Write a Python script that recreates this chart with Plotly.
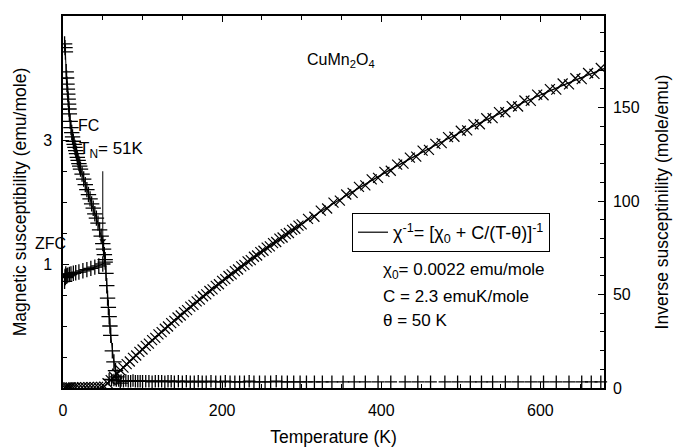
import plotly.graph_objects as go

# ---------------- data ----------------
FC_T = [2, 2.5, 3, 4, 4.5, 5, 5.5, 6, 6.5, 7, 7.5, 8, 9, 10, 11, 12, 13, 14, 15, 16,
        17, 18, 19, 20, 21, 22, 24, 26, 28, 30, 32, 34, 36, 38, 40, 42, 44, 46, 48, 50,
        51, 52, 53, 54, 55, 56, 57, 58, 59, 60, 62, 64, 66, 68, 72]
FC_CHI = [4.55, 4.49, 4.42, 4.10, 4.00, 3.90, 3.82, 3.74, 3.66, 3.58, 3.50, 3.42, 3.30, 3.20, 3.12, 3.05, 2.98, 2.93, 2.88, 2.83,
          2.78, 2.72, 2.67, 2.62, 2.58, 2.53, 2.45, 2.37, 2.28, 2.20, 2.12, 2.05, 1.97, 1.90, 1.81, 1.74, 1.66, 1.55, 1.45, 1.33,
          1.24, 1.15, 1.07, 0.85, 0.65, 0.45, 0.30, 0.15, 0.00, -0.15, -0.40, -0.58, -0.72, -0.82, -0.92]

ZFC_T = [2, 2.5, 3, 3.5, 4, 5, 6, 8, 10, 13, 16, 20, 25, 30, 35, 40, 45, 50, 53]
ZFC_CHI = [0.72, 0.80, 0.78, 0.84, 0.80, 0.81, 0.82, 0.83, 0.84, 0.85, 0.86, 0.87, 0.89, 0.91, 0.93, 0.95, 0.97, 1.00, 1.03]

BOT_T = [58, 61, 64, 67, 70, 73, 76, 79, 82, 85,
         88, 91, 94, 97, 100, 104, 108, 112, 116, 120,
         124, 128, 132, 136, 140, 145, 150, 155, 160, 165,
         170, 175, 180, 186, 192, 198, 204, 210, 216, 222,
         228, 234, 240, 247, 254, 261, 268, 275, 282, 290,
         298, 306, 316, 326, 338, 352, 366, 380, 396, 412,
         430, 446, 462, 480, 496, 512, 526, 540, 556, 572,
         588, 604, 620, 636, 652, 664, 676]
BOT_CHI = [-0.86, -0.87, -0.87, -0.88, -0.88, -0.88, -0.89, -0.88, -0.89, -0.89,
           -0.88, -0.89, -0.89, -0.89, -0.89, -0.89, -0.89, -0.90, -0.89, -0.89,
           -0.89, -0.90, -0.89, -0.89, -0.90, -0.89, -0.90, -0.89, -0.90, -0.90,
           -0.89, -0.90, -0.90, -0.89, -0.90, -0.90, -0.89, -0.90, -0.90, -0.90,
           -0.90, -0.89, -0.90, -0.90, -0.90, -0.90, -0.89, -0.90, -0.90, -0.90,
           -0.90, -0.90, -0.90, -0.90, -0.90, -0.90, -0.90, -0.90, -0.90, -0.90,
           -0.90, -0.90, -0.90, -0.90, -0.90, -0.90, -0.90, -0.90, -0.90, -0.90,
           -0.90, -0.90, -0.90, -0.90, -0.90, -0.90, -0.90]

INV_T = [2, 4, 6, 8, 10, 13, 16, 20, 24, 28, 32, 36, 40, 44, 48, 52,
         56, 60, 64, 68, 72, 76, 80, 84, 88, 92, 96, 100, 104, 108, 112, 116, 120, 124, 128, 132,
         136, 140, 144, 148, 152, 156, 160, 164, 168, 172, 176, 180, 184, 188, 192, 196, 200, 204,
         208, 212, 216, 220, 224, 228, 232, 236, 240, 244, 248, 252, 256, 260, 264, 268, 272, 276,
         280, 284, 288, 292, 296, 300,
         308, 316, 324, 332, 340, 348, 356, 364, 372, 380, 388, 396, 404, 412, 420, 428, 436, 444,
         452, 460, 468, 476, 484, 492, 500, 508, 516, 524, 532, 540, 548, 556, 564, 572, 580, 588,
         596, 604, 612, 620, 628, 636, 644, 652, 660, 668, 676]
INV_CHI = [0.22, 0.23, 0.25, 0.26, 0.28, 0.29, 0.32, 0.35, 0.38, 0.41, 0.44, 0.47, 0.51, 0.56, 0.64, 0.76,
           2.6, 4.2, 6.1, 7.6, 9.5, 10.9, 12.8, 14.2, 16.1, 17.4, 19.3, 20.6, 22.5, 23.7, 25.6, 26.8, 28.7, 29.9, 31.7, 32.9,
           34.7, 35.9, 37.7, 38.8, 40.6, 41.7, 43.5, 44.5, 46.3, 47.3, 49.1, 50.1, 51.9, 52.8, 54.6, 55.5, 57.3, 58.2,
           59.9, 60.8, 62.5, 63.4, 65.1, 65.9, 67.7, 68.4, 70.2, 70.9, 72.7, 73.4, 75.1, 75.8, 77.5, 78.1, 79.9, 80.5,
           82.3, 82.9, 84.6, 85.2, 86.9, 87.5,
           90.5, 91.6, 94.9, 96.0, 99.2, 100.2, 103.5, 104.4, 107.6, 108.4, 111.6, 112.4, 115.6, 116.2, 119.5, 120.0, 123.2, 123.8,
           127.0, 127.4, 130.6, 131.0, 134.2, 134.4, 137.6, 137.8, 141.0, 141.1, 144.3, 144.4, 147.6, 147.5, 150.8, 150.6, 153.8, 153.6,
           156.9, 156.6, 159.9, 159.6, 162.9, 162.4, 165.7, 165.2, 168.5, 168.0, 171.2]

FIT_T = [55, 57, 60, 65, 70, 80, 90, 100, 120, 140, 160, 180, 200, 250, 300, 350, 400, 450, 500, 550, 600, 650, 680]
FIT_INV = [2.16, 3.02, 4.31, 6.43, 8.53, 12.68, 16.75, 20.75, 28.52, 36.03, 43.27, 50.27, 57.03, 72.99, 87.72,
           101.35, 114.01, 125.79, 136.78, 147.06, 156.70, 165.75, 170.90]

X_TICKS = [0, 200, 400, 600]
Y1_TICKS = [1, 3]
Y2_TICKS = [0, 50, 100, 150]

# ---------------- layout geometry (pixels) ----------------
W, H = 679, 447
L, R, T, B = 63, 604, 16, 388
FONT = "Liberation Sans, Arial, sans-serif"


def px(x):
    return (x - L) / (R - L)


def py(y):
    return (B - y) / (B - T)


fig = go.Figure()

plus = dict(symbol="cross-thin-open", size=11, color="black", line=dict(width=1.3, color="black"))
cross = dict(symbol="x-thin-open", size=10, color="black", line=dict(width=1.2, color="black"))

fig.add_trace(go.Scatter(x=FC_T, y=FC_CHI, mode="lines+markers", marker=plus,
                         line=dict(color="black", width=1), showlegend=False, yaxis="y"))
fig.add_trace(go.Scatter(x=ZFC_T, y=ZFC_CHI, mode="lines+markers", marker=plus,
                         line=dict(color="black", width=1), showlegend=False, yaxis="y"))
fig.add_trace(go.Scatter(x=BOT_T, y=BOT_CHI, mode="markers", marker=dict(plus, size=9),
                         showlegend=False, yaxis="y", cliponaxis=False))
fig.add_trace(go.Scatter(x=INV_T, y=INV_CHI, mode="markers", marker=cross,
                         showlegend=False, yaxis="y2"))
fig.add_trace(go.Scatter(x=FIT_T, y=FIT_INV, mode="lines", line=dict(color="black", width=1.2, shape="spline"),
                         name="χ<sup>-1</sup>= [χ<sub>0</sub> + C/(T-θ)]<sup>-1</sup>", yaxis="y2"))

axis_common = dict(showline=True, linecolor="black", linewidth=1.5, ticks="inside",
                   tickcolor="black", tickwidth=1.2, showgrid=False, zeroline=False,
                   automargin=False,
                   tickfont=dict(family=FONT, size=16, color="black"))

fig.update_layout(
    width=W, height=H,
    margin=dict(l=L, r=W - R, t=T, b=H - B),
    paper_bgcolor="white", plot_bgcolor="white",
    font=dict(family=FONT, size=16, color="black"),
    xaxis=dict(axis_common, range=[0, 680], tickmode="array", tickvals=X_TICKS, ticklen=6,
               ticklabelstandoff=7, mirror="ticks",
               minor=dict(dtick=50, tick0=0, ticklen=4, ticks="inside", tickcolor="black"),
               title=dict(text="Temperature (K)", font=dict(size=17.5), standoff=14)),
    yaxis=dict(axis_common, range=[-1, 5], tickmode="array", tickvals=Y1_TICKS, ticklen=6,
               ticklabelstandoff=6,
               minor=dict(tickmode="linear", dtick=0.5, tick0=0, ticklen=4, ticks="inside", tickcolor="black"),
               title=dict(text="Magnetic susceptibility (emu/mole)", font=dict(size=17.5), standoff=12)),
    yaxis2=dict(axis_common, range=[0, 199], overlaying="y", side="right", tickmode="array",
                tickvals=Y2_TICKS, ticklen=6, ticklabelstandoff=4,
                minor=dict(dtick=10, tick0=0, ticklen=4, ticks="inside", tickcolor="black"),
                title=dict(text="Inverse susceptinility (mole/emu)", font=dict(size=17.5), standoff=17)),
    legend=dict(x=px(352), y=py(213), xanchor="left", yanchor="top", bordercolor="black",
                borderwidth=1, bgcolor="white", font=dict(family=FONT, size=18)),
)

ann = [
    ("CuMn<sub>2</sub>O<sub>4</sub>", 305, 60, 16),
    ("FC", 76, 126, 16),
    ("T<sub>N</sub>= 51K", 77, 150, 17),
    ("ZFC", 33, 243, 16),
    ("χ<sub>0</sub>= 0.0022 emu/mole", 381, 271, 17),
    ("C = 2.3 emuK/mole", 381, 296, 17),
    ("θ = 50 K", 381, 320, 17),
]
for text, x, y, s in ann:
    fig.add_annotation(text=text, x=px(x), y=py(y), xref="paper", yref="paper",
                       xanchor="left", yanchor="middle", showarrow=False,
                       font=dict(family=FONT, size=s, color="black"))

# T_N arrow
fig.add_annotation(x=50, y=1.34, ax=50, ay=2.52, xref="x", yref="y", axref="x", ayref="y",
                   text="", showarrow=True, arrowhead=1, arrowsize=1.2, arrowwidth=1, arrowcolor="black")

fig.write_html("out.html")
